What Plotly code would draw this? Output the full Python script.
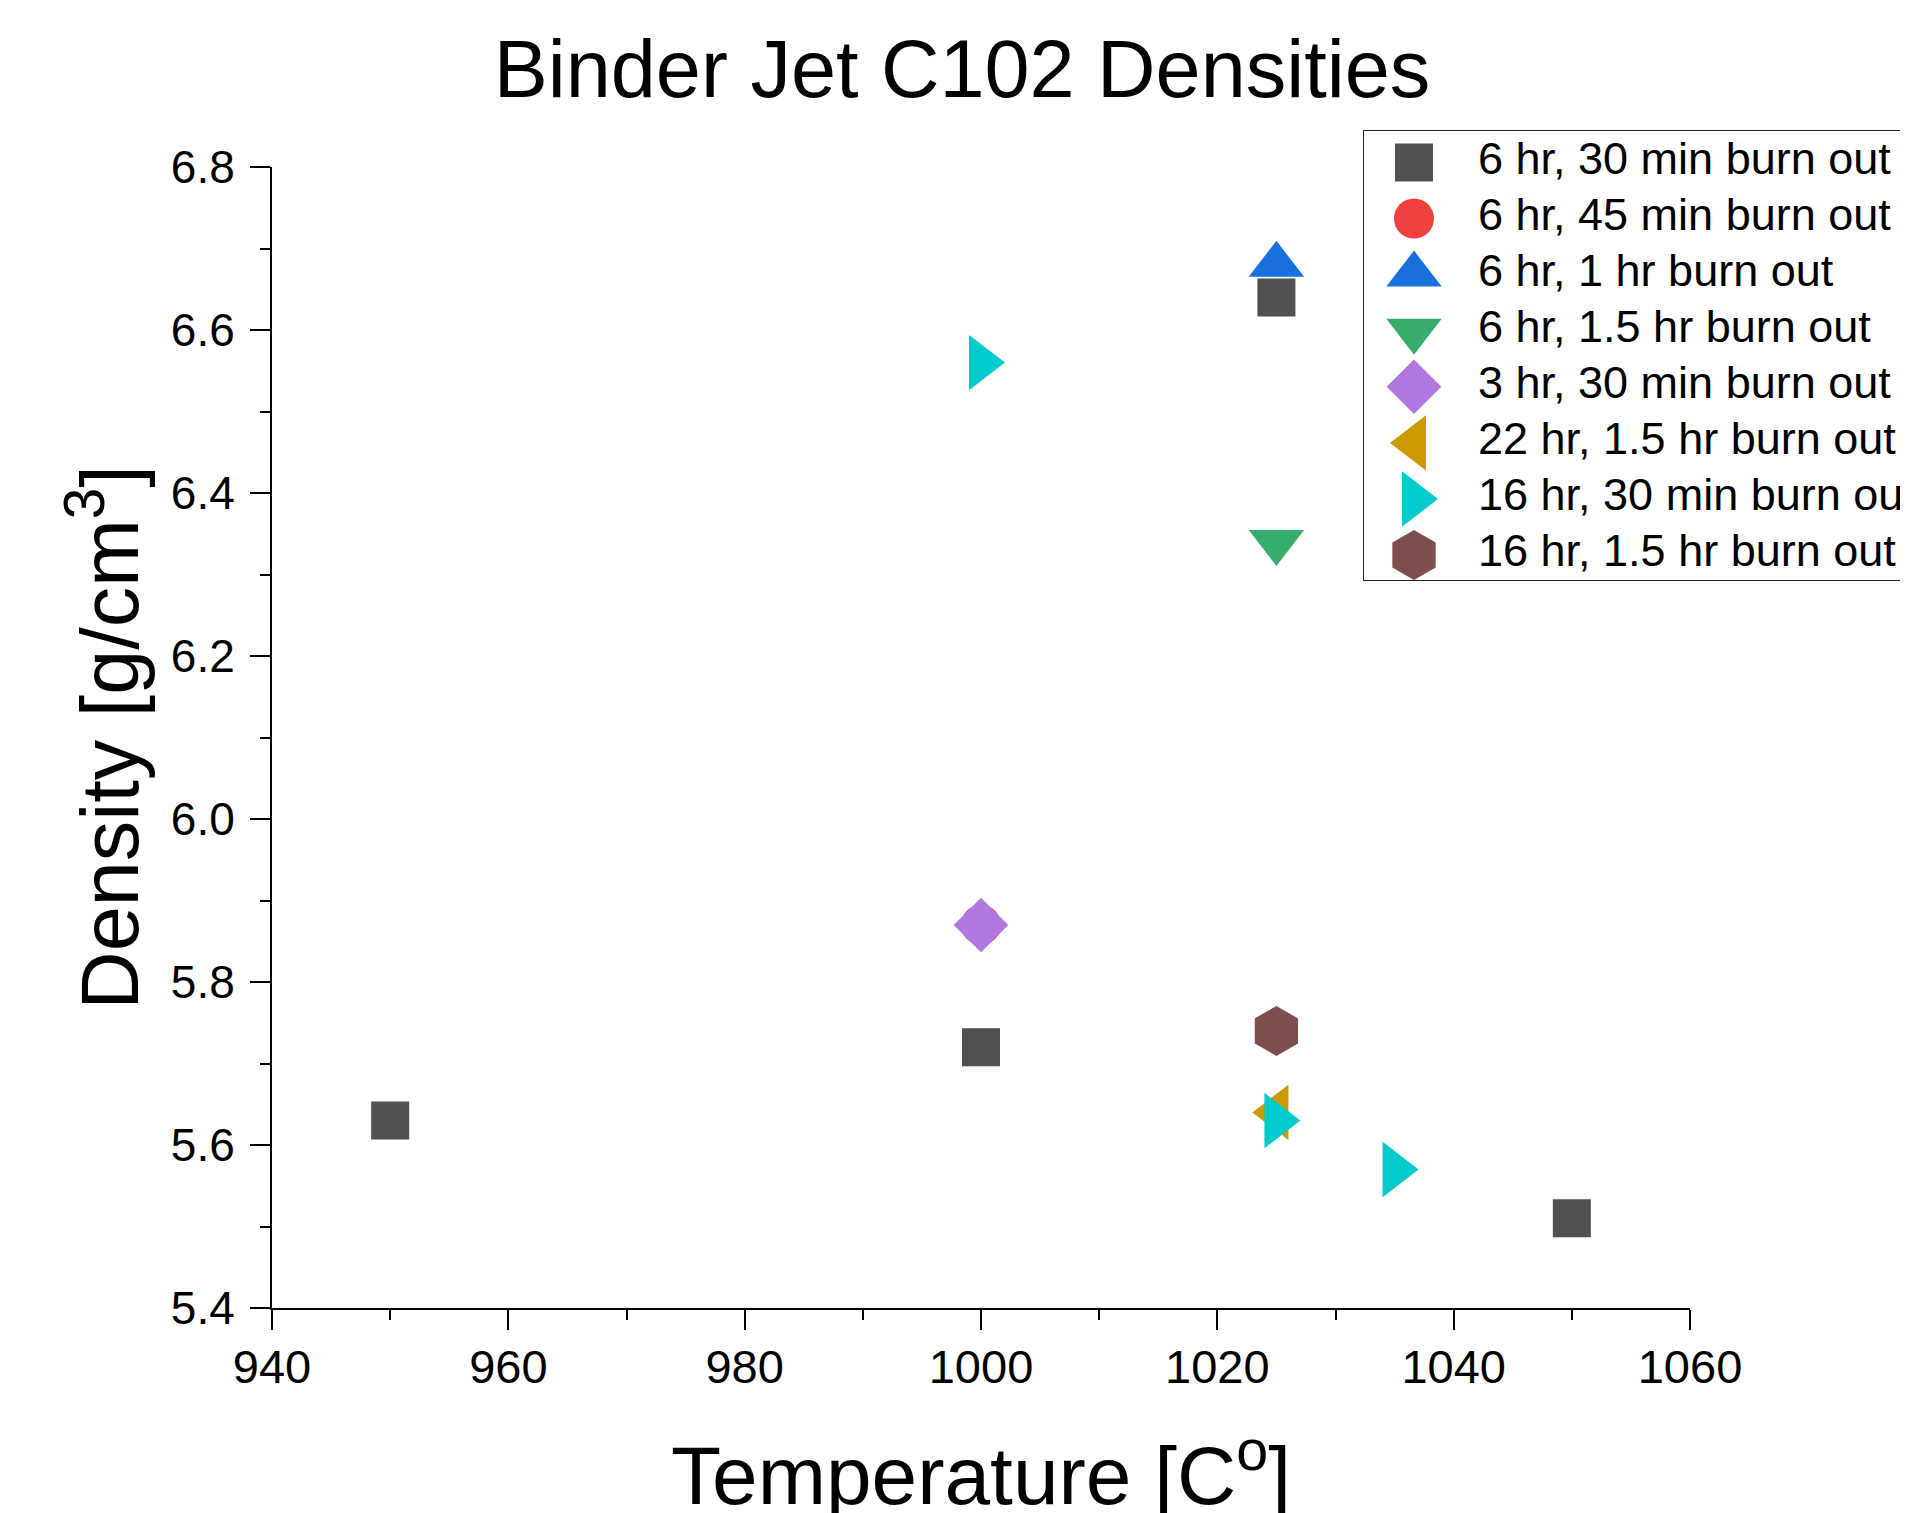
import plotly.graph_objects as go

# ---- data ----
series_names = [
    "6 hr, 30 min burn out",
    "6 hr, 45 min burn out",
    "6 hr, 1 hr burn out",
    "6 hr, 1.5 hr burn out",
    "3 hr, 30 min burn out",
    "22 hr, 1.5 hr burn out",
    "16 hr, 30 min burn out",
    "16 hr, 1.5 hr burn out",
]
temp_6h_30m = [950, 1000, 1025, 1050]
dens_6h_30m = [5.63, 5.72, 6.64, 5.51]
temp_6h_45m = [1000]
dens_6h_45m = [5.87]
temp_6h_1h = [1025]
dens_6h_1h = [6.68]
temp_6h_15h = [1025]
dens_6h_15h = [6.34]
temp_3h_30m = [1000]
dens_3h_30m = [5.87]
temp_22h_15h = [1025]
dens_22h_15h = [5.64]
temp_16h_30m = [1000, 1025, 1035]
dens_16h_30m = [6.56, 5.63, 5.57]
temp_16h_15h = [1025]
dens_16h_15h = [5.74]

x_ticks = [940, 960, 980, 1000, 1020, 1040, 1060]
y_ticks = [5.4, 5.6, 5.8, 6.0, 6.2, 6.4, 6.6, 6.8]

xs = [temp_6h_30m, temp_6h_45m, temp_6h_1h, temp_6h_15h,
      temp_3h_30m, temp_22h_15h, temp_16h_30m, temp_16h_15h]
ys = [dens_6h_30m, dens_6h_45m, dens_6h_1h, dens_6h_15h,
      dens_3h_30m, dens_22h_15h, dens_16h_30m, dens_16h_15h]

# ---- styles ----
colors = ["#515151", "#F14040", "#1A6FDF", "#37AD6B",
          "#B177DE", "#CC9900", "#00CBCC", "#7D4E4E"]
symbols = ["square", "circle", "triangle-up", "triangle-down",
           "diamond", "triangle-left", "triangle-right", "hexagon"]
sizes = [38, 40, 48, 48, 42, 48, 48, 50]

FONT = "Arial, Liberation Sans, sans-serif"
W, H = 1908, 1513
PL, PR, PT, PB = 264, 1682, 159, 1300        # plot area in px
LG_L, LG_T, LG_B = 1356, 123, 572            # legend box in px
LG_ROW0, LG_PITCH = 154.4, 56.1
LG_MARK_X, LG_TEXT_X = 1406, 1470

fig = go.Figure()

for i, name in enumerate(series_names):
    fig.add_trace(go.Scatter(
        x=xs[i], y=ys[i], mode="markers", name=name,
        marker=dict(symbol=symbols[i], color=colors[i], size=sizes[i],
                    line=dict(width=0)),
        showlegend=False, cliponaxis=False,
    ))

# custom legend drawn in its own little subplot (large symbols like the original)
for i, name in enumerate(series_names):
    fig.add_trace(go.Scatter(
        x=[LG_MARK_X - LG_L], y=[i], mode="markers",
        marker=dict(symbol=symbols[i], color=colors[i], size=sizes[i],
                    line=dict(width=0)),
        xaxis="x2", yaxis="y2", showlegend=False, cliponaxis=False,
        hoverinfo="skip",
    ))
fig.add_trace(go.Scatter(
    x=[LG_TEXT_X - LG_L] * len(series_names), y=list(range(len(series_names))),
    mode="text", text=series_names, textposition="middle right",
    textfont=dict(family=FONT, size=45, color="black"),
    xaxis="x2", yaxis="y2", showlegend=False, cliponaxis=False, hoverinfo="skip",
))

axis_common = dict(
    showgrid=False, zeroline=False, showline=True, linecolor="black",
    linewidth=2, ticks="outside", ticklen=20, tickwidth=2, tickcolor="black",
    mirror=False,
)

fig.update_layout(
    width=W, height=H,
    margin=dict(l=0, r=0, t=0, b=0, autoexpand=False),
    paper_bgcolor="white", plot_bgcolor="white",
    font=dict(family=FONT, color="black"),
    title=dict(text="Binder Jet C102 Densities", font=dict(size=81, family=FONT),
               x=954 / W, xanchor="center",
               y=1 - 61 / H, yanchor="middle", xref="paper", yref="paper"),
    xaxis=dict(
        domain=[PL / W, PR / W], range=[940, 1060],
        tickmode="array", tickvals=x_ticks, ticktext=[str(v) for v in x_ticks],
        tickfont=dict(size=47, family=FONT), ticklabelstandoff=-3,
        minor=dict(dtick=10, tick0=940, ticks="outside", ticklen=10, tickwidth=2,
                   tickcolor="black", showgrid=False),
        title=dict(text="Temperature [C<sup>o</sup>]", font=dict(size=82, family=FONT),
                   standoff=55),
        **axis_common,
    ),
    yaxis=dict(
        domain=[1 - PB / H, 1 - PT / H], range=[5.4, 6.8],
        tickmode="array", tickvals=y_ticks, ticktext=[f"{v:.1f}" for v in y_ticks],
        tickfont=dict(size=46, family=FONT), ticklabelstandoff=6,
        minor=dict(dtick=0.1, tick0=5.4, ticks="outside", ticklen=10, tickwidth=2,
                   tickcolor="black", showgrid=False),
        title=dict(text="Density [g/cm<sup>3</sup>]", font=dict(size=81, family=FONT),
                   standoff=5),
        **axis_common,
    ),
    xaxis2=dict(domain=[LG_L / W, 1.0], range=[0, W - LG_L], visible=False,
                fixedrange=True),
    yaxis2=dict(domain=[1 - LG_B / H, 1 - LG_T / H],
                range=[(LG_B - LG_ROW0) / LG_PITCH, (LG_T - LG_ROW0) / LG_PITCH],
                visible=False, fixedrange=True),
    shapes=[dict(type="rect", xref="paper", yref="paper",
                 x0=LG_L / W, x1=1.05, y0=1 - LG_B / H, y1=1 - LG_T / H,
                 line=dict(color="#222222", width=2), fillcolor="rgba(0,0,0,0)",
                 layer="below")],
    showlegend=False,
)

fig.write_html("out.html")
